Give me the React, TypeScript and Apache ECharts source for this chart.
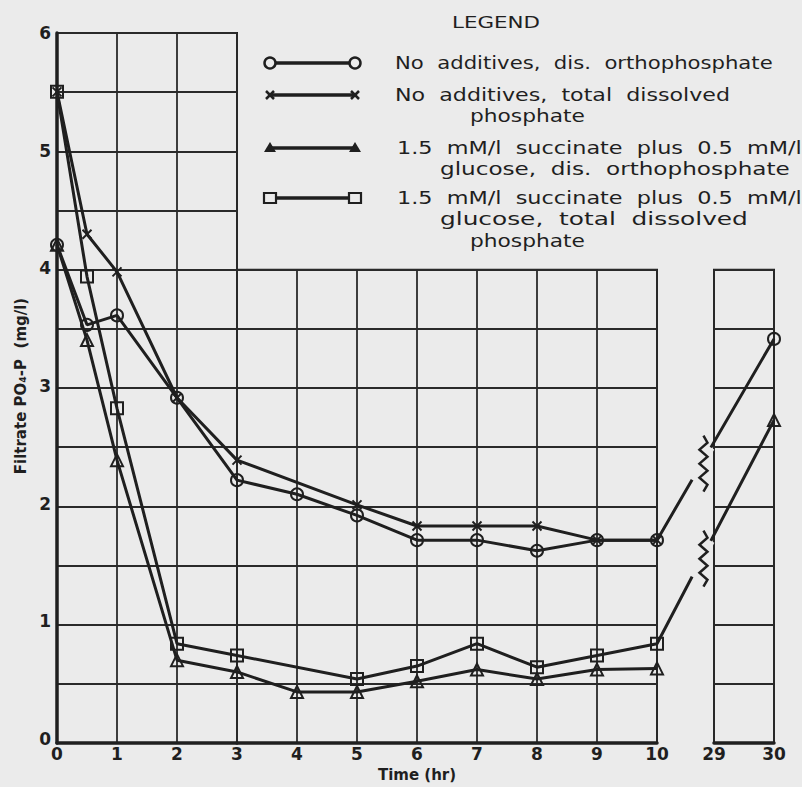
import React, { useEffect, useRef } from "react";
import * as echarts from "echarts";

// ---- data ----
const TIME_MAIN = [0, 0.5, 1, 2, 3, 4, 5, 6, 7, 8, 9, 10];
const TIME_LATE = 30;
const ORTHO_NO_ADD = [4.2, 3.52, 3.6, 2.9, 2.2, 2.08, 1.9, 1.69, 1.69, 1.6, 1.69, 1.69];
const TOTAL_NO_ADD = [5.5, 4.29, 3.97, 2.9, 2.37, null, 1.99, 1.81, 1.81, 1.81, 1.69, 1.69];
const ORTHO_SUCC = [4.2, 3.39, 2.37, 0.67, 0.57, 0.4, 0.4, 0.49, 0.59, 0.51, 0.59, 0.6];
const TOTAL_SUCC = [5.5, 3.93, 2.81, 0.81, 0.71, null, 0.51, 0.62, 0.81, 0.61, 0.71, 0.81];
const ORTHO_NO_ADD_LATE = 3.4;
const ORTHO_SUCC_LATE = 2.71;

const X_TICK_LABELS = [0, 1, 2, 3, 4, 5, 6, 7, 8, 9, 10, 29, 30];
const Y_TICK_LABELS = [0, 1, 2, 3, 4, 5, 6];

const LEGEND_TITLE = "LEGEND";
const LEGEND_ROWS = [
  ["No  additives,  dis.  orthophosphate"],
  ["No  additives,  total  dissolved", "phosphate"],
  ["1.5  mM/l  succinate  plus  0.5  mM/l", "glucose,  dis.  orthophosphate"],
  ["1.5  mM/l  succinate  plus  0.5  mM/l", "glucose,  total  dissolved", "phosphate"],
];

// ---- styling / layout ----
const BG = "#ebebeb";
const INK = "#1f1f1f";
const FONT = '"DejaVu Sans", sans-serif';
const X0 = 57; // px of t=0
const PX_PER_HR = 60;
const Y_TOP = 33; // px of 6
const Y_BOT = 743; // px of 0
const PX_PER_UNIT = (Y_BOT - Y_TOP) / 6;
const BREAK_POS = 10.95; // where t=29 sits on the compressed axis

const xPos = (t: number) => (t <= 10 ? t : BREAK_POS + (t - 29));

function measure(text: string, font: string) {
  const c = document.createElement("canvas").getContext("2d");
  if (!c) return text.length * 9;
  c.font = font;
  return c.measureText(text).width;
}

export default function App() {
  const ref = useRef<HTMLDivElement>(null);
  useEffect(() => {
    document.body.style.margin = "0";
    const chart = echarts.init(ref.current!, undefined, { renderer: "svg" });

    const mainPairs = (vals: (number | null)[]) =>
      TIME_MAIN.map((t, i) => [xPos(t), vals[i]]).filter((p) => p[1] !== null);

    const hollow = (symbol: string, size: number) => ({
      type: "line",
      xAxisIndex: 0,
      yAxisIndex: 0,
      symbol,
      symbolSize: size,
      showSymbol: true,
      z: 5,
      itemStyle: { color: "rgba(0,0,0,0)", borderColor: INK, borderWidth: 2 },
      lineStyle: { color: INK, width: 3 },
      emphasis: { disabled: true },
    });

    const s1 = [...mainPairs(ORTHO_NO_ADD), [xPos(TIME_LATE), ORTHO_NO_ADD_LATE]];
    const s2 = mainPairs(TOTAL_NO_ADD);
    const s3 = [...mainPairs(ORTHO_SUCC), [xPos(10.5), null], [xPos(TIME_LATE), ORTHO_SUCC_LATE]];
    const s4: any[] = [
      ...mainPairs(TOTAL_SUCC),
      { value: [xPos(TIME_LATE), ORTHO_SUCC_LATE], symbol: "none" },
    ];

    const breakData = [
      [xPos(10), ORTHO_NO_ADD[11], xPos(TIME_LATE), ORTHO_NO_ADD_LATE],
      [xPos(10), TOTAL_SUCC[11] as number, xPos(TIME_LATE), ORTHO_SUCC_LATE],
    ];

    const legendFont = `17px ${FONT}`;

    const rowY = [63, 95, 148, 198];
    const lineDy = 21.5;
    // [x, targetWidth] for each text line of each legend row
    const textBoxes: number[][][] = [
      [[395, 378]],
      [[395, 335], [470, 115]],
      [[397, 405], [440, 350]],
      [[397, 405], [440, 308], [470, 115]],
    ];
    const x1 = 270, x2 = 355;

    const legendEls: any[] = [];
    legendEls.push({
      type: "text",
      x: 452,
      y: 22,
      scaleX: 88 / measure(LEGEND_TITLE, `16px ${FONT}`),
      style: { text: LEGEND_TITLE, font: `16px ${FONT}`, fill: INK, verticalAlign: "middle" },
    });
    LEGEND_ROWS.forEach((lines, r) => {
      const y = rowY[r];
      legendEls.push({ type: "line", shape: { x1, y1: y, x2, y2: y }, style: { stroke: INK, lineWidth: 3.5 } });
      [x1, x2].forEach((x) => {
        if (r === 0) legendEls.push({ type: "circle", shape: { cx: x, cy: y, r: 5.5 }, style: { fill: BG, stroke: INK, lineWidth: 2.5 } });
        if (r === 1) {
          legendEls.push({ type: "line", shape: { x1: x - 4, y1: y - 4, x2: x + 4, y2: y + 4 }, style: { stroke: INK, lineWidth: 2.5 } });
          legendEls.push({ type: "line", shape: { x1: x - 4, y1: y + 4, x2: x + 4, y2: y - 4 }, style: { stroke: INK, lineWidth: 2.5 } });
        }
        if (r === 2) legendEls.push({ type: "polygon", shape: { points: [[x - 6, y + 4], [x + 6, y + 4], [x, y - 6]] }, style: { fill: INK } });
        if (r === 3) legendEls.push({ type: "rect", shape: { x: x - 6, y: y - 5, width: 12, height: 10 }, style: { fill: BG, stroke: INK, lineWidth: 2.2 } });
      });
      lines.forEach((txt, k) => {
        const [tx, tw] = textBoxes[r][k];
        legendEls.push({
          type: "text",
          x: tx,
          y: y + k * lineDy,
          scaleX: tw / measure(txt, legendFont),
          style: { text: txt, font: legendFont, fill: INK, verticalAlign: "middle" },
        });
      });
    });

    const panelGrid = (l: number, t: number, w: number, h: number) => ({
      left: l, top: t, width: w, height: h, show: true, borderColor: INK, borderWidth: 2,
      backgroundColor: "transparent",
    });
    const splitStyle = { show: true, lineStyle: { color: "#2a2a2a", width: 1.8 } };
    const yTop4 = Y_BOT - 4 * PX_PER_UNIT;

    const panelAxisX = (gi: number, min: number, max: number) => ({
      gridIndex: gi, type: "value", min, max, interval: 1,
      axisLabel: { show: false }, axisTick: { show: false },
      axisLine: { show: true, lineStyle: { color: INK, width: 3.5 } },
      splitLine: splitStyle,
    });
    const panelAxisY = (gi: number, max: number, showLine: boolean) => ({
      gridIndex: gi, type: "value", min: 0, max, interval: 0.5,
      axisLabel: { show: false }, axisTick: { show: false },
      axisLine: { show: showLine, lineStyle: { color: INK, width: 3.5 } },
      splitLine: splitStyle,
    });

    const option: any = {
      animation: false,
      backgroundColor: BG,
      grid: [
        { left: X0, top: Y_TOP, width: 12 * PX_PER_HR, height: Y_BOT - Y_TOP, show: false },
        panelGrid(X0, Y_TOP, 3 * PX_PER_HR, Y_BOT - Y_TOP),
        panelGrid(X0 + 3 * PX_PER_HR, yTop4, 7 * PX_PER_HR, Y_BOT - yTop4),
        panelGrid(X0 + BREAK_POS * PX_PER_HR, yTop4, PX_PER_HR, Y_BOT - yTop4),
      ],
      xAxis: [
        {
          gridIndex: 0, type: "value", min: 0, max: 12,
          axisLine: { show: false }, axisTick: { show: false }, splitLine: { show: false },
          axisLabel: {
            customValues: X_TICK_LABELS.map((t) => xPos(t)),
            formatter: (v: number) => {
              const i = X_TICK_LABELS.findIndex((t) => Math.abs(xPos(t) - v) < 1e-6);
              return i >= 0 ? String(X_TICK_LABELS[i]) : "";
            },
            color: INK, fontFamily: FONT, fontWeight: "bold", fontSize: 17, margin: 6,
          },
          name: "Time (hr)", nameLocation: "middle", nameGap: 28,
          nameTextStyle: { color: INK, fontFamily: FONT, fontWeight: "bold", fontSize: 15 },
        },
        panelAxisX(1, 0, 3),
        panelAxisX(2, 3, 10),
        panelAxisX(3, 29, 30),
      ],
      yAxis: [
        {
          gridIndex: 0, type: "value", min: 0, max: 6, interval: 1,
          axisLine: { show: false }, axisTick: { show: false }, splitLine: { show: false },
          axisLabel: {
            formatter: (v: number) => (Y_TICK_LABELS.includes(v) ? String(v) : ""),
            color: INK, fontFamily: FONT, fontWeight: "bold", fontSize: 17, margin: 6,
          },
          name: "Filtrate PO\u2084-P  (mg/l)", nameLocation: "middle", nameGap: 29, nameRotate: 90,
          nameTextStyle: { color: INK, fontFamily: FONT, fontWeight: "bold", fontSize: 15 },
        },
        panelAxisY(1, 6, true),
        panelAxisY(2, 4, false),
        panelAxisY(3, 4, false),
      ],
      series: [
        { ...hollow("circle", 12), name: LEGEND_ROWS[0][0], data: s1 },
        { ...hollow("path://M0,0L10,10M10,0L0,10", 9), name: LEGEND_ROWS[1].join(" "), data: s2 },
        { ...hollow("triangle", 12), name: LEGEND_ROWS[2].join(" "), data: s3, connectNulls: false },
        { ...hollow("rect", 12), name: LEGEND_ROWS[3].join(" "), data: s4 },
        {
          type: "custom",
          xAxisIndex: 0,
          yAxisIndex: 0,
          z: 8,
          silent: true,
          data: breakData,
          encode: { x: [0, 2], y: [1, 3] },
          renderItem: (_p: any, api: any) => {
            const a = api.coord([api.value(0), api.value(1)]);
            const b = api.coord([api.value(2), api.value(3)]);
            const lerp = (f: number) => [a[0] + (b[0] - a[0]) * f, a[1] + (b[1] - a[1]) * f];
            const g0 = lerp(0.3);
            const g1 = lerp(0.46);
            const c = lerp(0.38);
            const h = 56, n = 8, amp = 4;
            const pts: number[][] = [];
            for (let i = 0; i <= n; i++) {
              const off = i === 0 || i === n ? 0 : i % 2 === 0 ? -amp : amp;
              pts.push([c[0] + 2 + off, c[1] - h / 2 + (h * i) / n]);
            }
            return {
              type: "group",
              children: [
                { type: "line", shape: { x1: g0[0], y1: g0[1], x2: g1[0], y2: g1[1] }, style: { stroke: BG, lineWidth: 8 } },
                { type: "polyline", shape: { points: pts }, style: { stroke: INK, lineWidth: 2.5, fill: "none" } },
              ],
            };
          },
        },
      ],
      graphic: legendEls,
    };
    chart.setOption(option);
    return () => chart.dispose();
  }, []);

  return <div ref={ref} style={{ position: "fixed", left: 0, top: 0, width: 802, height: 787 }} />;
}
